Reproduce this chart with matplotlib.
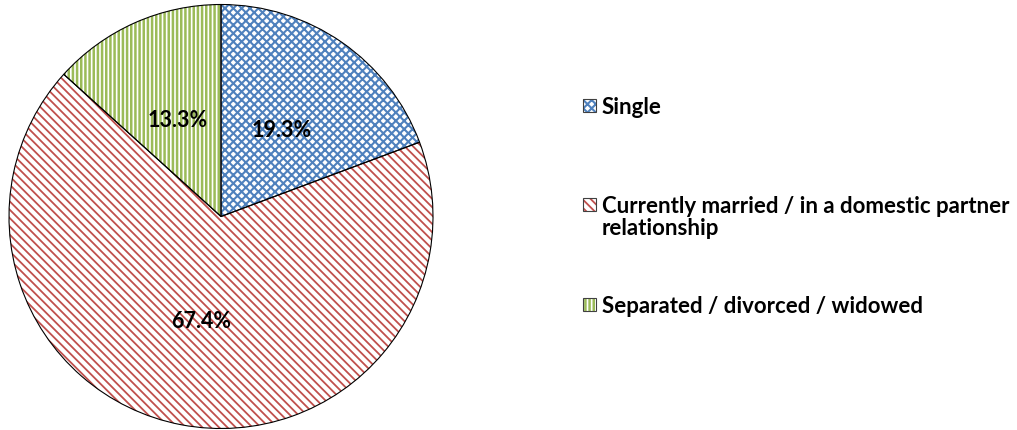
import matplotlib
matplotlib.use('Agg')
import matplotlib.pyplot as plt
from matplotlib.patches import Rectangle

# Data
labels = ['Single',
          'Currently married / in a domestic partner\nrelationship',
          'Separated / divorced / widowed']
shares = [19.3, 67.4, 13.3]
colors = ['#4F81BD', '#C0504D', '#9BBB59']
hatches = ['xxxx', '\\\\\\\\', '||||']
hatch_lw = [1.5, 1.3, 1.8]

plt.rcParams['font.family'] = ['Lato', 'DejaVu Sans']
plt.rcParams['hatch.linewidth'] = 1.4

W, H = 1017, 431
fig = plt.figure(figsize=(W / 100, H / 100), dpi=100)

# pie axes: centre (221, 217.5) px, radius 212 px
cx, cy, r = 221, 217.5, 212
ax = fig.add_axes([(cx - r) / W, (H - cy - r) / H, 2 * r / W, 2 * r / H])


def style_hatch(p, c, h, lw):
    p.set_hatch(h)
    p.set_edgecolor(c)
    if hasattr(p, 'set_hatch_linewidth'):
        p.set_hatch_linewidth(lw)


# hatched fill (edge colour = hatch colour)
wedges, texts, autotexts = ax.pie(shares, startangle=90, counterclock=False,
                                  colors=['white'] * 3, autopct='%1.1f%%',
                                  pctdistance=0.5, radius=1,
                                  wedgeprops=dict(linewidth=0))
for w, c, h, lw in zip(wedges, colors, hatches, hatch_lw):
    style_hatch(w, c, h, lw)
    w.set_clip_on(False)

# black outlines on top
outline, _ = ax.pie(shares, startangle=90, counterclock=False, radius=1,
                    wedgeprops=dict(fill=False, edgecolor='black', linewidth=0.8))
for w in outline:
    w.set_clip_on(False)

for t in autotexts:
    t.set_fontsize(15.5)
    t.set_fontweight('bold')
    t.set_color('black')

ax.set_xlim(-1, 1)
ax.set_ylim(-1, 1)
ax.set_aspect('equal')
ax.axis('off')

# legend drawn by hand
entry_y = [106, 205, 305]
line_gap = 22
box = 13
for lab, c, h, lw, y in zip(labels, colors, hatches, hatch_lw, entry_y):
    fill = Rectangle((583 / W, (H - y - box / 2) / H), box / W, box / H,
                     transform=fig.transFigure, facecolor='white', linewidth=0)
    style_hatch(fill, c, h, lw)
    fig.patches.append(fill)
    fig.patches.append(Rectangle((583 / W, (H - y - box / 2) / H), box / W, box / H,
                                 transform=fig.transFigure, fill=False,
                                 edgecolor='#404040', linewidth=0.8))
    for i, line in enumerate(lab.split('\n')):
        fig.text(602 / W, (H - y - i * line_gap) / H, line, fontsize=16,
                 fontweight='bold', ha='left', va='center_baseline')

fig.savefig('out.png', dpi=100)
